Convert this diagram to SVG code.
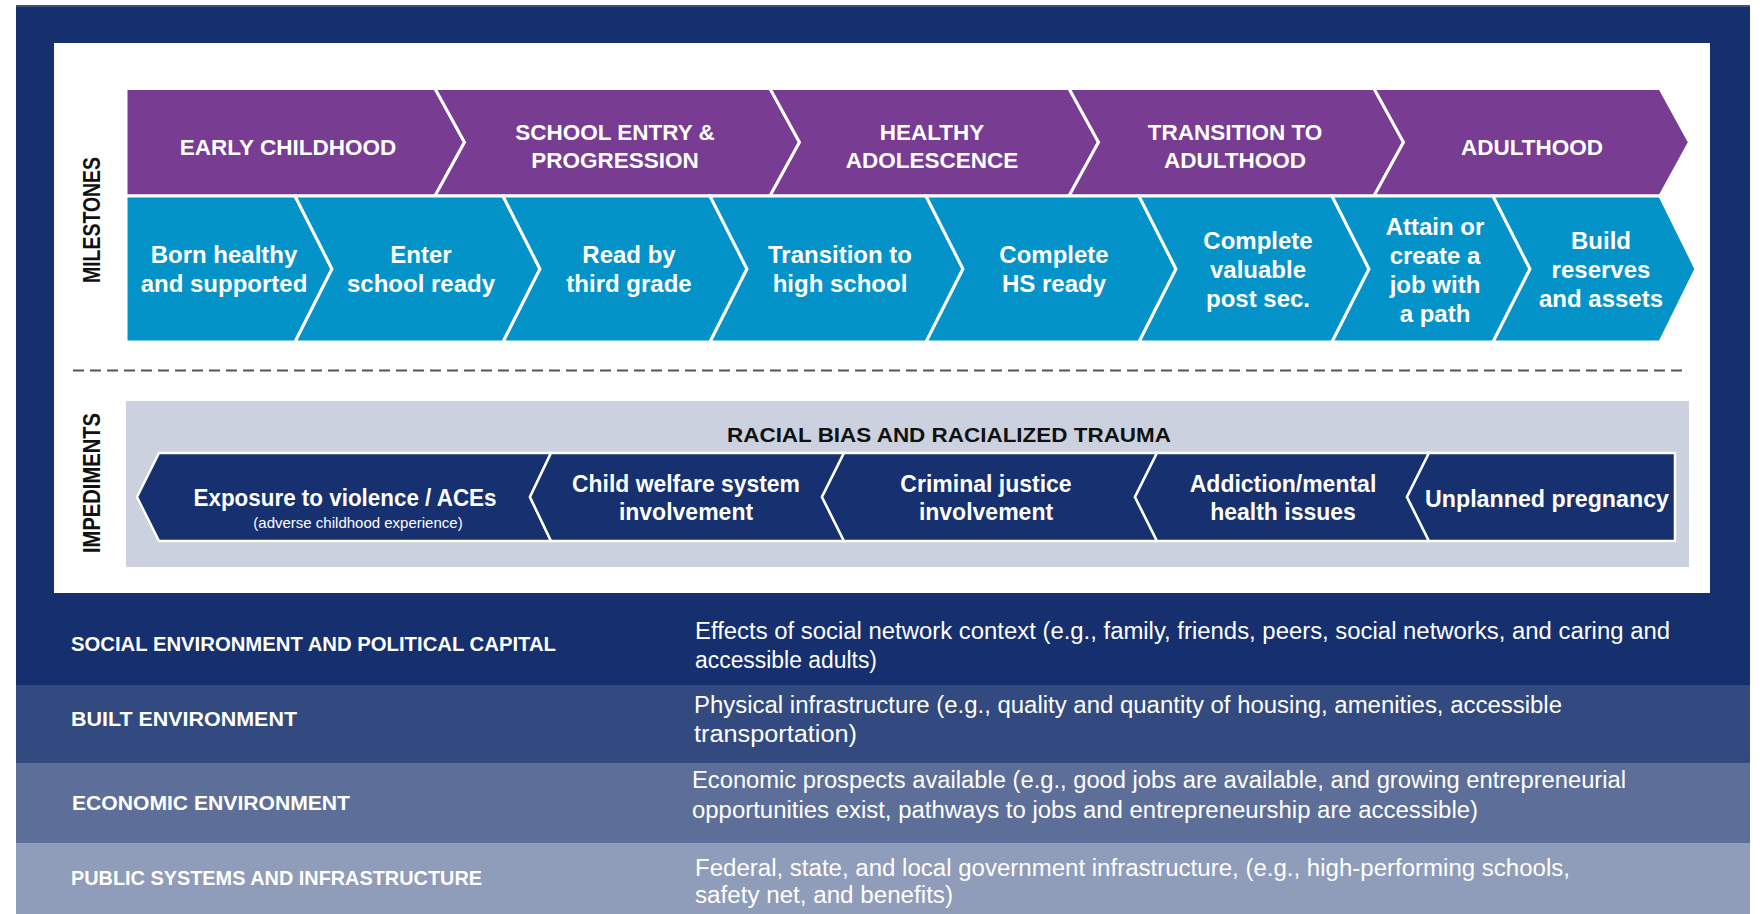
<svg xmlns="http://www.w3.org/2000/svg" width="1760" height="914" viewBox="0 0 1760 914">
<style>
.ph{fill:#793c93;stroke:#fff;stroke-width:3;stroke-linejoin:miter}
.ms{fill:#0493c9;stroke:#fff;stroke-width:3;stroke-linejoin:miter}
.im{fill:#163070;stroke:#fff;stroke-width:2.5;stroke-linejoin:miter}
.t{font-family:"Liberation Sans",Arial,sans-serif;fill:#fff;text-anchor:middle}
.b{font-weight:bold}
.hd{font-size:22.5px}
.ml{font-size:24px}
.il{font-size:23px}
.side{font-family:"Liberation Sans",Arial,sans-serif;font-weight:bold;font-size:23px;fill:#111;text-anchor:middle}
.rl{font-family:"Liberation Sans",Arial,sans-serif;font-weight:bold;font-size:20px;fill:#fff}
.rd{font-family:"Liberation Sans",Arial,sans-serif;font-size:23px;fill:#fff}
</style>
<rect x="16" y="5" width="1734" height="909" fill="#152f6f"/>
<rect x="16" y="5" width="1734" height="2" fill="#3b5186"/>
<rect x="54" y="43" width="1656" height="550" fill="#fff"/>

<g id="label-milestones"><text class="side" transform="translate(100,220) rotate(-90)" textLength="126" lengthAdjust="spacingAndGlyphs">MILESTONES</text></g>
<g id="label-impediments"><text class="side" transform="translate(100,483) rotate(-90)" textLength="140" lengthAdjust="spacingAndGlyphs">IMPEDIMENTS</text></g>

<g id="phase-early-childhood"><polygon class="ph" points="126,88.5 435,88.5 464.5,142.25 435,196 126,196"/><text class="t b hd" x="288" y="155">EARLY CHILDHOOD</text></g>
<g id="phase-school-entry"><polygon class="ph" points="435,88.5 770,88.5 799.5,142.25 770,196 435,196 464.5,142.25"/><text class="t b hd" x="615" y="139.5">SCHOOL ENTRY &amp;</text><text class="t b hd" x="615" y="167.5">PROGRESSION</text></g>
<g id="phase-healthy-adolescence"><polygon class="ph" points="770,88.5 1069,88.5 1098.5,142.25 1069,196 770,196 799.5,142.25"/><text class="t b hd" x="932" y="139.5">HEALTHY</text><text class="t b hd" x="932" y="167.5">ADOLESCENCE</text></g>
<g id="phase-transition-adulthood"><polygon class="ph" points="1069,88.5 1374,88.5 1403.5,142.25 1374,196 1069,196 1098.5,142.25"/><text class="t b hd" x="1235" y="139.5">TRANSITION TO</text><text class="t b hd" x="1235" y="167.5">ADULTHOOD</text></g>
<g id="phase-adulthood"><polygon class="ph" points="1374,88.5 1660,88.5 1689.5,142.25 1660,196 1374,196 1403.5,142.25"/><text class="t b hd" x="1532" y="155">ADULTHOOD</text></g>

<g id="ms-born-healthy"><polygon class="ms" points="126,196 295,196 332,269 295,342 126,342"/><text class="t b ml" x="224" y="263">Born healthy</text><text class="t b ml" x="224" y="292">and supported</text></g>
<g id="ms-enter-school"><polygon class="ms" points="295,196 503,196 540,269 503,342 295,342 332,269"/><text class="t b ml" x="421" y="263">Enter</text><text class="t b ml" x="421" y="292">school ready</text></g>
<g id="ms-read-third-grade"><polygon class="ms" points="503,196 710,196 747,269 710,342 503,342 540,269"/><text class="t b ml" x="629" y="263">Read by</text><text class="t b ml" x="629" y="292">third grade</text></g>
<g id="ms-transition-hs"><polygon class="ms" points="710,196 926,196 963,269 926,342 710,342 747,269"/><text class="t b ml" x="840" y="263">Transition to</text><text class="t b ml" x="840" y="292">high school</text></g>
<g id="ms-complete-hs"><polygon class="ms" points="926,196 1139,196 1176,269 1139,342 926,342 963,269"/><text class="t b ml" x="1054" y="263">Complete</text><text class="t b ml" x="1054" y="292">HS ready</text></g>
<g id="ms-post-sec"><polygon class="ms" points="1139,196 1332,196 1369,269 1332,342 1139,342 1176,269"/><text class="t b ml" x="1258" y="249">Complete</text><text class="t b ml" x="1258" y="278">valuable</text><text class="t b ml" x="1258" y="307">post sec.</text></g>
<g id="ms-job"><polygon class="ms" points="1332,196 1493,196 1530,269 1493,342 1332,342 1369,269"/><text class="t b ml" x="1435" y="235">Attain or</text><text class="t b ml" x="1435" y="264">create a</text><text class="t b ml" x="1435" y="293">job with</text><text class="t b ml" x="1435" y="322">a path</text></g>
<g id="ms-reserves"><polygon class="ms" points="1493,196 1660,196 1696,269 1660,342 1493,342 1530,269"/><text class="t b ml" x="1601" y="249">Build</text><text class="t b ml" x="1601" y="278">reserves</text><text class="t b ml" x="1601" y="307">and assets</text></g>

<line x1="73" y1="370.5" x2="1688" y2="370.5" stroke="#555" stroke-width="2" stroke-dasharray="11 6"/>

<g id="impediments-panel">
<rect x="126" y="401" width="1563" height="166" fill="#cbd1de"/>
<text class="t b" x="949" y="442" style="font-size:21px;fill:#111" textLength="444" lengthAdjust="spacingAndGlyphs">RACIAL BIAS AND RACIALIZED TRAUMA</text>
</g>
<g id="imp-violence"><polygon class="im" points="137,497 159,453 551,453 530,497 551,541 159,541"/><text class="t b il" x="345" y="506" textLength="303" lengthAdjust="spacingAndGlyphs">Exposure to violence / ACEs</text><text class="t" x="358" y="528" style="font-size:15px">(adverse childhood experience)</text></g>
<g id="imp-child-welfare"><polygon class="im" points="530,497 551,453 844,453 822,497 844,541 551,541"/><text class="t b il" x="686" y="492" textLength="228" lengthAdjust="spacingAndGlyphs">Child welfare system</text><text class="t b il" x="686" y="520">involvement</text></g>
<g id="imp-criminal-justice"><polygon class="im" points="822,497 844,453 1157,453 1135,497 1157,541 844,541"/><text class="t b il" x="986" y="492">Criminal justice</text><text class="t b il" x="986" y="520">involvement</text></g>
<g id="imp-addiction"><polygon class="im" points="1135,497 1157,453 1429,453 1407,497 1429,541 1157,541"/><text class="t b il" x="1283" y="492">Addiction/mental</text><text class="t b il" x="1283" y="520">health issues</text></g>
<g id="imp-pregnancy"><polygon class="im" points="1407,497 1429,453 1675,453 1675,541 1429,541"/><text class="t b il" x="1547" y="507" textLength="244" lengthAdjust="spacingAndGlyphs">Unplanned pregnancy</text></g>

<g id="connectors"></g>

<g id="row-social">
<rect x="16" y="593" width="1734" height="92" fill="#152f6f"/>
<text class="rl" x="71" y="651" textLength="485" lengthAdjust="spacingAndGlyphs">SOCIAL ENVIRONMENT AND POLITICAL CAPITAL</text>
<text class="rd" x="695" y="639" textLength="975" lengthAdjust="spacingAndGlyphs">Effects of social network context (e.g., family, friends, peers, social networks, and caring and</text>
<text class="rd" x="695" y="668" textLength="182" lengthAdjust="spacingAndGlyphs">accessible adults)</text>
</g>
<g id="row-built">
<rect x="16" y="685" width="1734" height="78" fill="#324a80"/>
<text class="rl" x="71" y="726" textLength="226" lengthAdjust="spacingAndGlyphs">BUILT ENVIRONMENT</text>
<text class="rd" x="694" y="713" textLength="868" lengthAdjust="spacingAndGlyphs">Physical infrastructure (e.g., quality and quantity of housing, amenities, accessible</text>
<text class="rd" x="694" y="742" textLength="163" lengthAdjust="spacingAndGlyphs">transportation)</text>
</g>
<g id="row-economic">
<rect x="16" y="763" width="1734" height="80" fill="#5d6f99"/>
<text class="rl" x="72" y="810" textLength="278" lengthAdjust="spacingAndGlyphs">ECONOMIC ENVIRONMENT</text>
<text class="rd" x="692" y="788" textLength="934" lengthAdjust="spacingAndGlyphs">Economic prospects available (e.g., good jobs are available, and growing entrepreneurial</text>
<text class="rd" x="692" y="818" textLength="786" lengthAdjust="spacingAndGlyphs">opportunities exist, pathways to jobs and entrepreneurship are accessible)</text>
</g>
<g id="row-public">
<rect x="16" y="843" width="1734" height="71" fill="#8f9cba"/>
<text class="rl" x="71" y="885" textLength="411" lengthAdjust="spacingAndGlyphs">PUBLIC SYSTEMS AND INFRASTRUCTURE</text>
<text class="rd" x="695" y="876" textLength="875" lengthAdjust="spacingAndGlyphs">Federal, state, and local government infrastructure, (e.g., high-performing schools,</text>
<text class="rd" x="695" y="903" textLength="258" lengthAdjust="spacingAndGlyphs">safety net, and benefits)</text>
</g>
</svg>
